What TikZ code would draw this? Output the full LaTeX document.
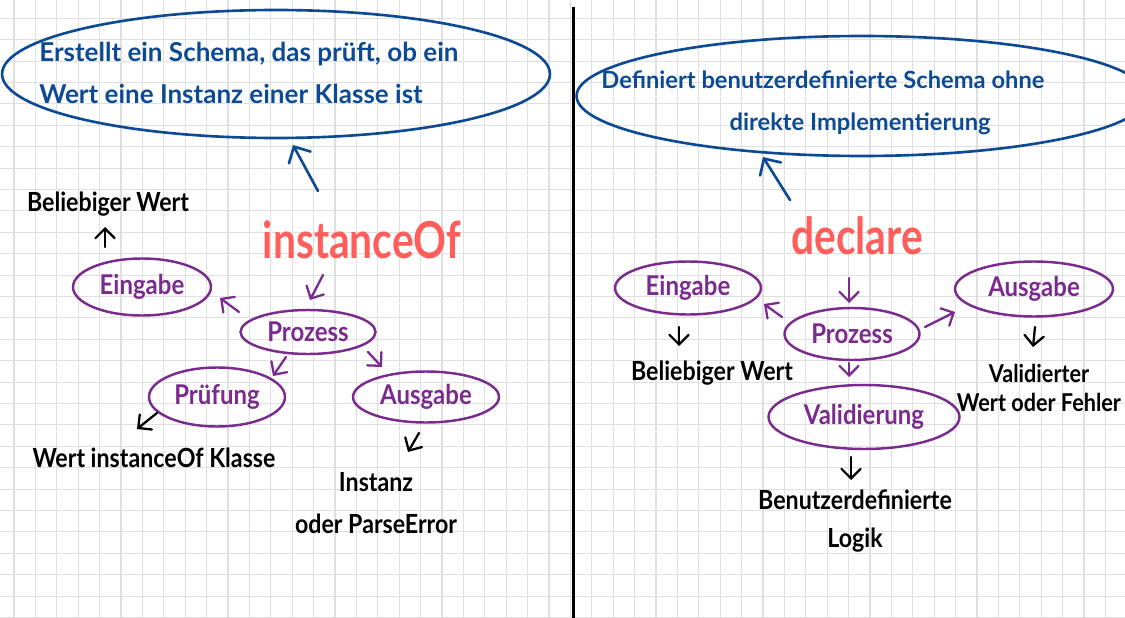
\documentclass[tikz,border=0pt]{standalone}
\usepackage{fontspec}
\usepackage{tikz}
\usetikzlibrary{arrows.meta,shapes.geometric}

\newfontfamily\handfont[FakeStretch=0.88]{Lato}
\newfontfamily\headfont[FakeStretch=0.8]{Lato}
\newfontfamily\notefont{Lato}

\definecolor{inkblue}{HTML}{0D4A94}
\definecolor{inkpurple}{HTML}{7B2A8E}
\definecolor{inkred}{HTML}{FF5E5B}
\definecolor{gridgray}{HTML}{E0E0E0}

\tikzset{
  desc/.style={draw=inkblue, line width=1.5pt, ellipse, inner sep=0pt},
  note/.style={text=inkblue, font=\notefont\bfseries\fontsize{#1}{24}\selectfont,
    inner sep=0pt, align=left},
  headline/.style={text=inkred, font=\headfont\bfseries\fontsize{29}{30}\selectfont, inner sep=0pt},
  stage/.style={draw=inkpurple, line width=1.4pt, ellipse, inner sep=0pt, text=inkpurple,
    font=\handfont\bfseries\fontsize{15.5}{18}\selectfont},
  outtext/.style={font=\handfont\bfseries\fontsize{15}{#1}\selectfont, inner sep=0pt, align=center},
  outtext/.default=24,
  tip/.style={-{Straight Barb[length=5.5pt,width=11pt,line cap=round]}, line width=1.3pt, line cap=round},
  barr/.style={-{Straight Barb[length=7pt,width=14pt,line cap=round]}, line width=1.5pt,
    line cap=round, draw=inkblue},
  parr/.style={tip, draw=inkpurple},
  karr/.style={tip, draw=black}
}

\begin{document}
\begin{tikzpicture}[x=0.02cm, y=-0.02cm]
\useasboundingbox (0,0) rectangle (1125,618);
\clip (0,0) rectangle (1125,618);

% grid paper
\foreach \i in {0,...,52}
  \draw[gridgray, line width=0.6pt] (14+21.4*\i,0) -- (14+21.4*\i,618);
\foreach \j in {0,...,28}
  \draw[gridgray, line width=0.6pt] (0,18.3+21.4*\j) -- (1125,18.3+21.4*\j);

% divider
\draw[line width=1.7pt] (573,7) -- (573,618);

% left: instanceOf
\node[desc, minimum width=10.96cm, minimum height=2.56cm] (descL) at (276,74) {};
\node[note=14.8, anchor=north west] (descLtxt) at (39,42)
  {Erstellt ein Schema, das prüft, ob ein\\Wert eine Instanz einer Klasse ist};
\node[headline, anchor=base] (titleL) at (362,258) {instanceOf};
\node[stage, minimum width=2.76cm, minimum height=1.14cm] (eingL) at (142,287) {Eingabe};
\node[stage, minimum width=2.7cm, minimum height=0.88cm] (prozL) at (308,332) {Prozess};
\node[stage, minimum width=2.72cm, minimum height=1.18cm] (prufL) at (217,397) {Prüfung};
\node[stage, minimum width=2.92cm, minimum height=1.02cm] (ausgL) at (426,397) {Ausgabe};
\node[outtext, anchor=base] (belL) at (108,212) {Beliebiger Wert};
\node[outtext, anchor=base] (wertL) at (154,467) {Wert instanceOf Klasse};
\node[outtext] (instL) at (376,503) {Instanz\\oder ParseError};

\draw[barr] ([shift={(-44,-67)}]titleL.base) -- ([shift={(17,71)}]descL.center);
\draw[parr] ([shift={(-39,17)}]titleL.base) -- ([shift={(2,-32)}]prozL.center);
\draw[parr] ([shift={(-69,-20)}]prozL.center) -- ([shift={(78,11)}]eingL.center);
\draw[parr] ([shift={(-22,25)}]prozL.center) -- ([shift={(56,-21)}]prufL.center);
\draw[parr] ([shift={(60,20)}]prozL.center) -- ([shift={(-44,-30)}]ausgL.center);
\draw[karr] ([shift={(-37,-40)}]eingL.center) -- ([shift={(-3,15)}]belL.base);
\draw[karr] ([shift={(-60,16)}]prufL.center) -- ([shift={(-17,-38)}]wertL.base);
\draw[karr] ([shift={(-7,36)}]ausgL.center) -- ([shift={(32,-51)}]instL.center);

% right: declare
\node[desc, minimum width=11.42cm, minimum height=2.4cm] (descR) at (862,96) {};
\node[note=13.5, anchor=north west] (descRtxt) at (601,70)
  {Definiert benutzerdefinierte Schema ohne\\\hspace*{73pt}direkte Implementierung};
\node[headline, anchor=base] (titleR) at (857,255) {declare};
\node[stage, minimum width=2.92cm, minimum height=1.06cm] (eingR) at (688,288) {Eingabe};
\node[stage, minimum width=2.7cm, minimum height=1.04cm] (prozR) at (852,334) {Prozess};
\node[stage, minimum width=3.16cm, minimum height=1.1cm] (ausgR) at (1034,289) {Ausgabe};
\node[stage, minimum width=3.82cm, minimum height=1.28cm] (validR) at (864,417) {Validierung};
\node[outtext, anchor=base] (belR) at (712,380) {Beliebiger Wert};
\node[outtext=17, font=\handfont\bfseries\fontsize{14}{17}\selectfont] (valdR) at (1039,388)
  {Validierter\\Wert oder Fehler};
\node[outtext=22] (benR) at (855,521) {Benutzerdefinierte\\Logik};

\draw[barr] ([shift={(-67,-55)}]titleR.base) -- ([shift={(-99,61)}]descR.center);
\draw[parr] ([shift={(-8,23)}]titleR.base) -- ([shift={(-3,-31)}]prozR.center);
\draw[parr] ([shift={(-70,-17)}]prozR.center) -- ([shift={(76,16)}]eingR.center);
\draw[parr] ([shift={(73,-7)}]prozR.center) -- ([shift={(-79,23)}]ausgR.center);
\draw[parr] ([shift={(-3,29)}]prozR.center) -- ([shift={(-15,-40)}]validR.center);
\draw[karr] ([shift={(-9,39)}]eingR.center) -- ([shift={(-33,-34)}]belR.base);
\draw[karr] ([shift={(1,38)}]ausgR.center) -- ([shift={(-6,-41)}]valdR.center);
\draw[karr] ([shift={(-13,40)}]validR.center) -- ([shift={(-4,-41)}]benR.center);
\end{tikzpicture}
\end{document}
